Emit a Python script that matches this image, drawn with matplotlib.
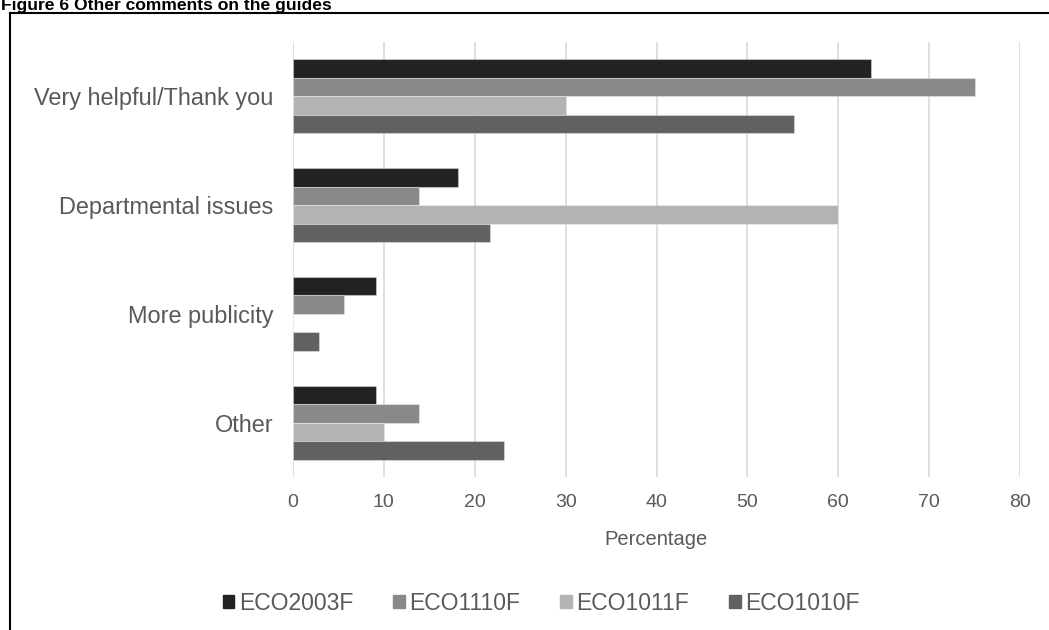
import matplotlib
matplotlib.use("Agg")
import numpy as np
from matplotlib import pyplot as plt
from matplotlib.patches import Rectangle
from matplotlib.lines import Line2D

categories = ["Very helpful/Thank you", "Departmental issues", "More publicity", "Other"]
series_names = ["ECO2003F", "ECO1110F", "ECO1011F", "ECO1010F"]
eco2003f = [63.6, 18.2, 9.1, 9.1]
eco1110f = [75.0, 13.9, 5.6, 13.9]
eco1011f = [30.0, 60.0, 0.0, 10.0]
eco1010f = [55.1, 21.7, 2.9, 23.2]
x_ticks = [0, 10, 20, 30, 40, 50, 60, 70, 80]

colors = ["#222222", "#898989", "#b3b3b3", "#616161"]
text_grey = "#595959"


def main():
    plt.rcParams["font.family"] = ["Liberation Sans", "DejaVu Sans"]

    fig = plt.figure(figsize=(10.49, 6.30), dpi=100)
    ax = fig.add_axes([293 / 1049, 1 - 477 / 630, (1020 - 293) / 1049, (477 - 42) / 630])

    values = [eco2003f, eco1110f, eco1011f, eco1010f]
    pos = np.arange(len(categories))
    h = 0.17
    for j, (vals, col) in enumerate(zip(values, colors)):
        ax.barh(pos + (j - 1.5) * h, vals, height=h, color=col,
                edgecolor=(1, 1, 1, 0.35), linewidth=0.8, zorder=3)

    ax.set_ylim(3.5, -0.5)
    ax.set_xlim(0, 80)
    ax.set_xticks(x_ticks)
    ax.set_yticks(pos)
    ax.set_yticklabels(categories, fontsize=16.9, color=text_grey)
    ax.tick_params(axis="y", length=0, pad=14)
    ax.tick_params(axis="x", length=0, pad=12, labelsize=14, labelcolor=text_grey)
    ax.grid(axis="x", color="#d9d9d9", linewidth=1.2, zorder=0)
    for s in ax.spines.values():
        s.set_visible(False)

    ax.set_xlabel("Percentage", fontsize=14.5, color=text_grey, labelpad=14)

    handles = [Rectangle((0, 0), 1, 1, color=c) for c in colors]
    fig.legend(handles, series_names, loc="center", bbox_to_anchor=(0.516, 1 - 603 / 630),
               ncol=4, frameon=False, fontsize=16.5, labelcolor=text_grey,
               handlelength=0.5, handleheight=0.5, handletextpad=0.2, columnspacing=1.75)

    # figure caption and the box around the chart
    fig.text(1 / 1049, 1 - 10 / 630, "Figure 6 Other comments on the guides",
             fontsize=12.6, fontweight="bold", va="baseline", ha="left")
    fig.add_artist(Line2D([10 / 1049, 10 / 1049], [0, 1 - 13 / 630], color="black", lw=1.5))
    fig.add_artist(Line2D([10 / 1049, 1], [1 - 13 / 630, 1 - 13 / 630], color="black", lw=1.5))

    fig.savefig("out.png", dpi=100)


if "__main__" == __name__:
    main()
